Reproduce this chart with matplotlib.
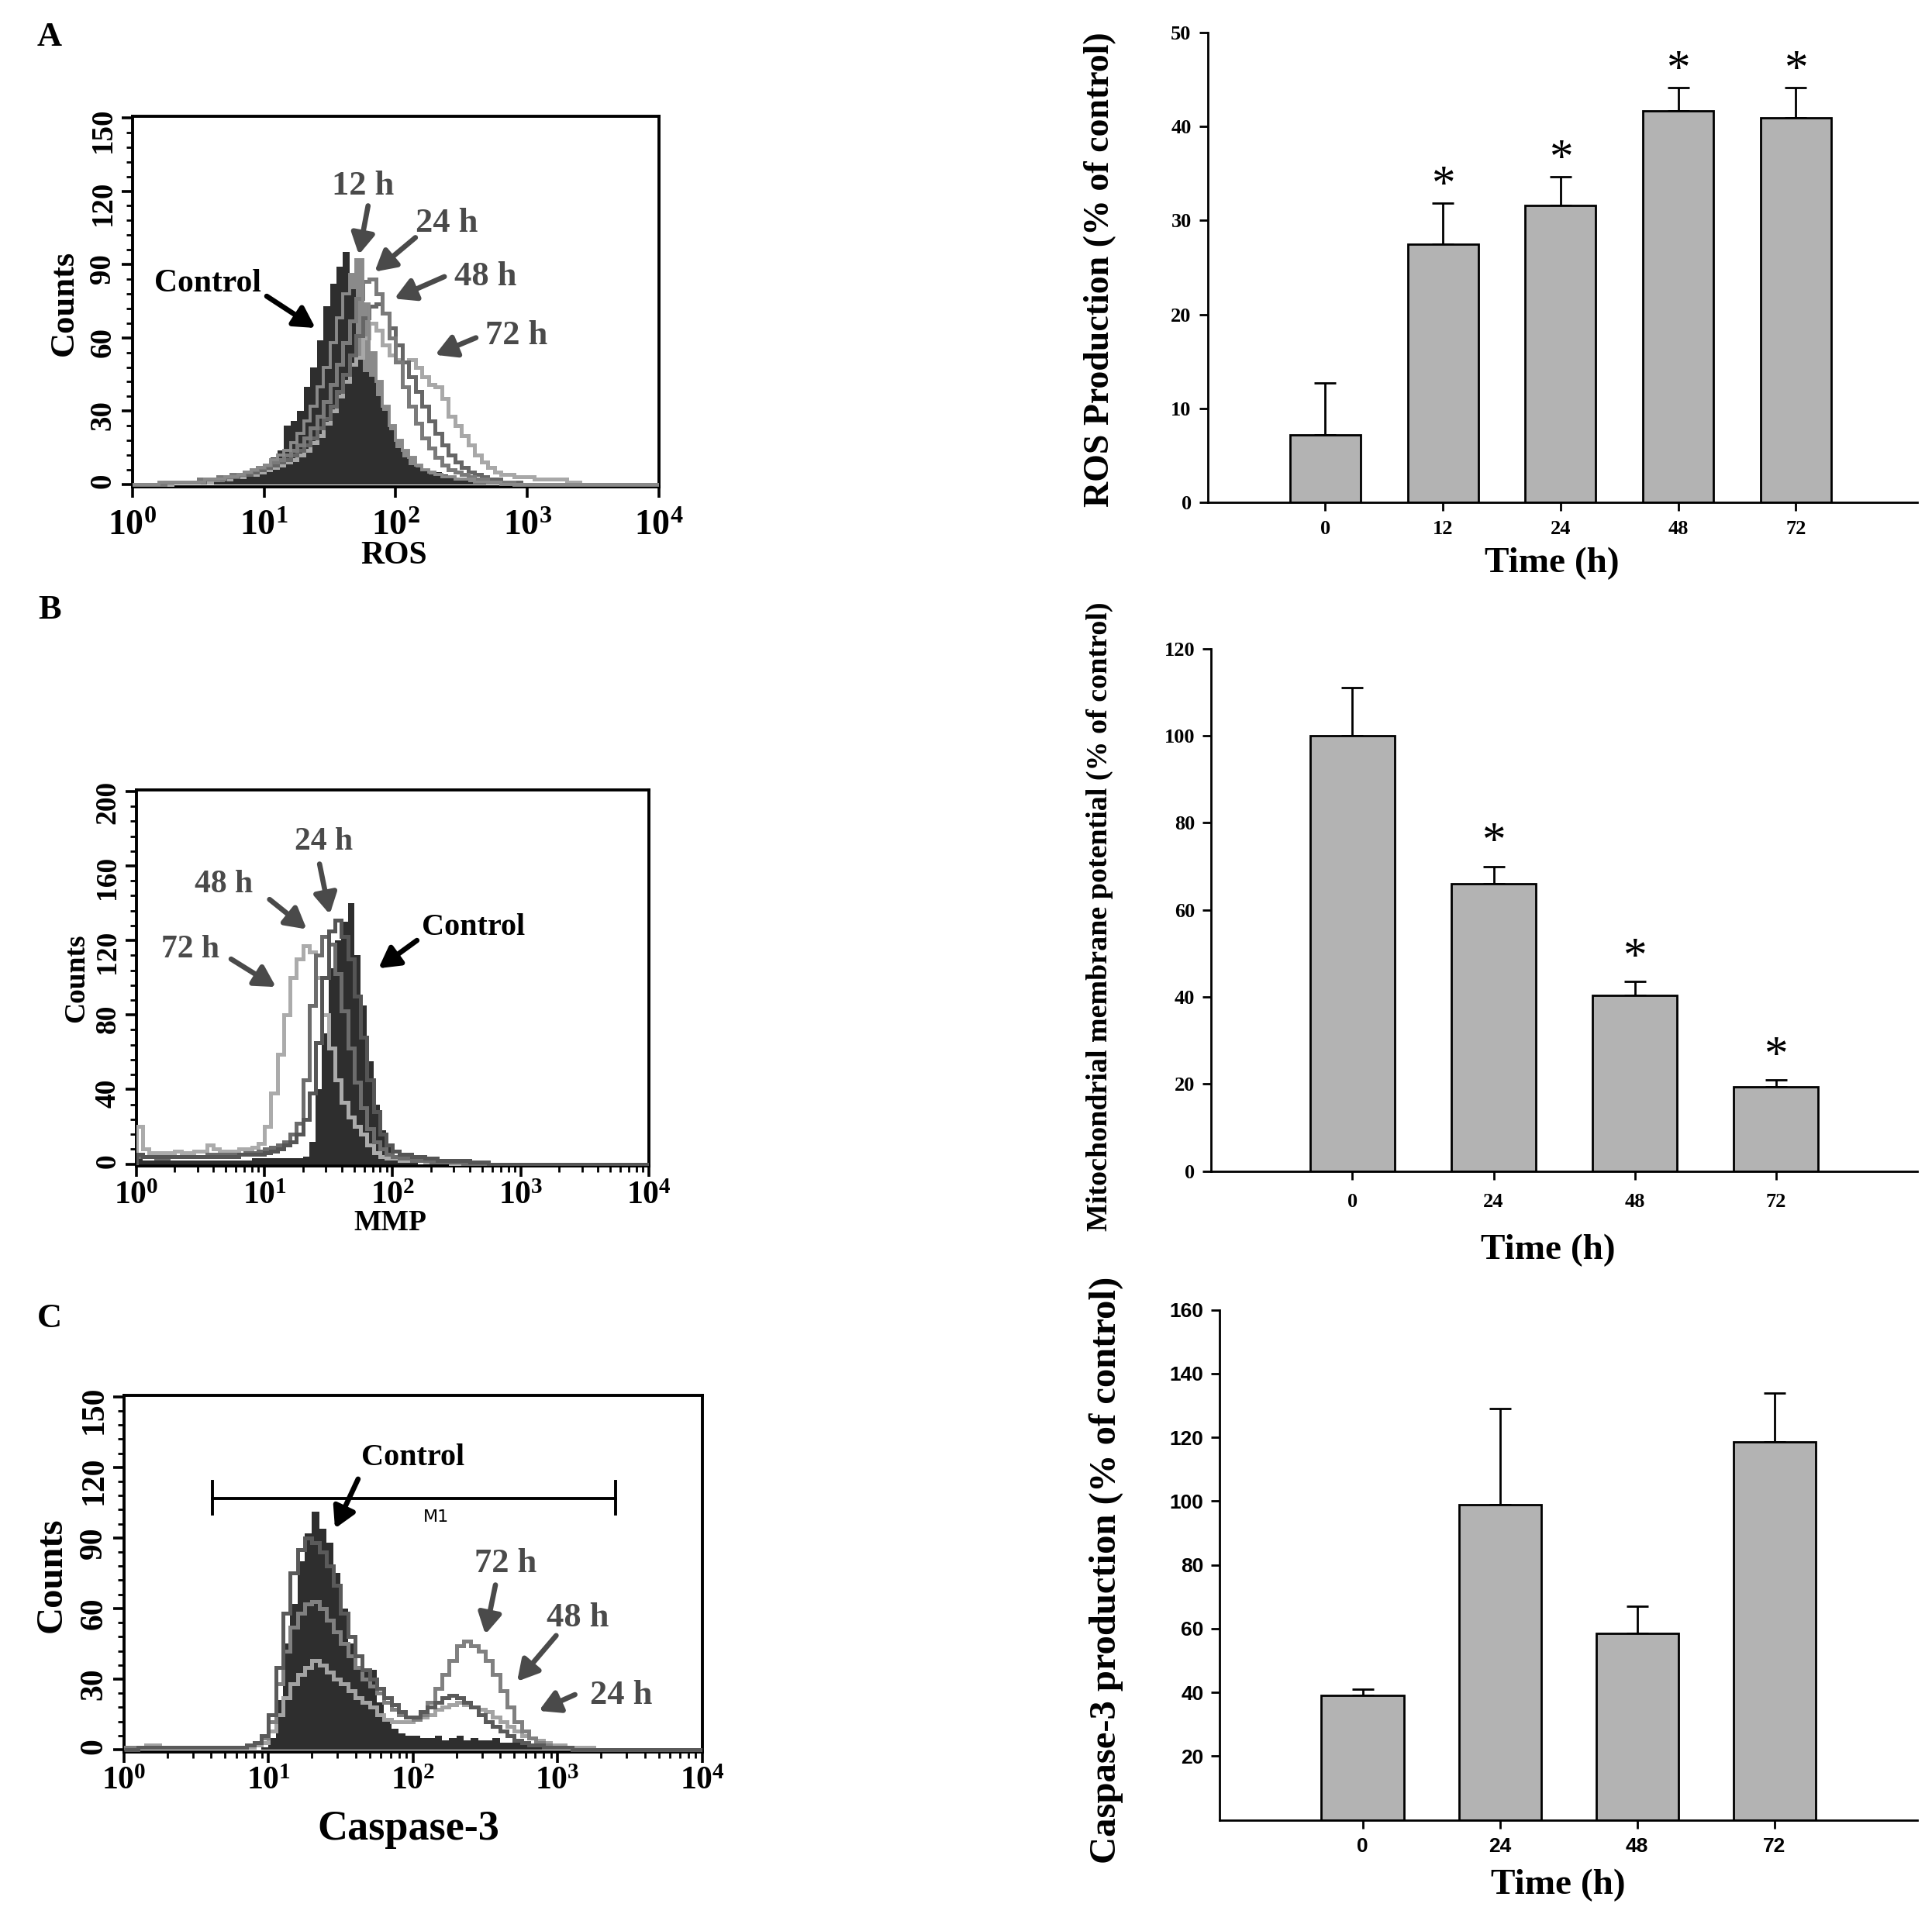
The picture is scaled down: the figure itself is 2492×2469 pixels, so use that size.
import numpy as np
import matplotlib
matplotlib.use('Agg')
import matplotlib.pyplot as plt
from matplotlib.ticker import FixedLocator, LogLocator, NullFormatter, FuncFormatter, AutoMinorLocator

plt.rcParams['font.family'] = 'Liberation Serif'
plt.rcParams['font.weight'] = 'bold'
plt.rcParams['mathtext.fontset'] = 'custom'
plt.rcParams['mathtext.rm'] = 'Liberation Serif:bold'
plt.rcParams['mathtext.it'] = 'Liberation Serif:bold'
plt.rcParams['mathtext.bf'] = 'Liberation Serif:bold'

# ---- histogram channels: 80 bins of 1/20 decade from 10^0 to 10^4 ----
edges = 10 ** np.linspace(0, 4, 81)

# ROS (panel A), counts per channel, one row per half decade
ros_control = [0, 0, 0, 0, 1, 1, 0, 1, 1, 0,
               1, 1, 1, 1, 2, 2, 3, 3, 4, 5,
               7, 11, 14, 24, 26, 30, 40, 48, 59, 73,
               82, 89, 95, 80, 52, 46, 44, 36, 30, 22,
               15, 11, 8, 7, 6, 4, 5, 4, 3, 2,
               2, 1, 1, 1, 1, 1, 1, 0, 0, 0,
               0, 0, 0, 0, 0, 0, 0, 0, 0, 0,
               0, 0, 0, 0, 0, 0, 0, 0, 0, 0]
ros_12h = [0, 0, 0, 0, 1, 1, 1, 1, 1, 1,
           1, 2, 2, 2, 3, 3, 4, 5, 6, 7,
           8, 10, 12, 14, 17, 21, 26, 32, 40, 48,
           58, 68, 78, 86, 92, 74, 54, 42, 32, 24,
           18, 14, 11, 8, 6, 5, 4, 3, 3, 2,
           2, 2, 1, 1, 1, 1, 0, 0, 0, 0,
           0, 0, 0, 0, 0, 0, 0, 0, 0, 0,
           0, 0, 0, 0, 0, 0, 0, 0, 0, 0]
ros_24h = [0, 0, 0, 0, 0, 1, 1, 1, 1, 1,
           2, 2, 2, 3, 3, 4, 4, 5, 6, 7,
           8, 9, 10, 12, 14, 16, 19, 23, 28, 34,
           41, 49, 58, 67, 76, 83, 84, 78, 70, 60,
           50, 40, 32, 25, 19, 15, 11, 8, 6, 5,
           4, 3, 2, 2, 1, 1, 1, 1, 0, 0,
           0, 0, 0, 0, 0, 0, 0, 0, 0, 0,
           0, 0, 0, 0, 0, 0, 0, 0, 0, 0]
ros_48h = [0, 0, 0, 0, 0, 1, 1, 1, 1, 1,
           1, 2, 2, 2, 3, 3, 4, 4, 5, 6,
           7, 8, 9, 10, 12, 14, 16, 19, 23, 27,
           32, 38, 45, 53, 61, 68, 73, 74, 70, 64,
           57, 50, 44, 38, 32, 26, 21, 16, 12, 9,
           7, 5, 4, 3, 2, 2, 1, 1, 1, 0,
           0, 0, 0, 0, 0, 0, 0, 0, 0, 0,
           0, 0, 0, 0, 0, 0, 0, 0, 0, 0]
ros_72h = [0, 0, 0, 0, 0, 0, 1, 1, 1, 1,
           1, 1, 2, 2, 2, 3, 3, 4, 4, 5,
           6, 7, 8, 9, 10, 12, 14, 17, 20, 25,
           30, 36, 42, 49, 52, 60, 66, 63, 57, 53,
           51, 50, 51, 48, 44, 41, 40, 35, 28, 24,
           20, 16, 12, 9, 7, 5, 4, 4, 3, 3,
           3, 2, 2, 2, 2, 2, 1, 1, 0, 0,
           0, 0, 0, 0, 0, 0, 0, 0, 0, 0]

# MMP (panel B)
mmp_control = [3, 2, 2, 2, 2, 2, 2, 2, 2, 2,
               2, 2, 2, 2, 2, 2, 2, 2, 3, 3,
               3, 3, 3, 3, 3, 3, 4, 12, 40, 70,
               105, 120, 130, 140, 112, 85, 55, 32, 18, 9,
               4, 2, 1, 1, 0, 0, 0, 0, 0, 0,
               0, 0, 0, 0, 0, 0, 0, 0, 0, 0,
               0, 0, 0, 0, 0, 0, 0, 0, 0, 0,
               0, 0, 0, 0, 0, 0, 0, 0, 0, 0]
mmp_24h = [5, 4, 4, 4, 4, 4, 4, 4, 4, 4,
           4, 4, 4, 4, 4, 4, 5, 5, 5, 5,
           6, 7, 8, 10, 12, 16, 24, 38, 65, 100,
           125, 131, 122, 110, 90, 68, 45, 28, 16, 10,
           7, 5, 5, 4, 4, 3, 3, 2, 2, 2,
           2, 2, 1, 1, 1, 0, 0, 0, 0, 0,
           0, 0, 0, 0, 0, 0, 0, 0, 0, 0,
           0, 0, 0, 0, 0, 0, 0, 0, 0, 0]
mmp_48h = [4, 4, 4, 3, 3, 4, 4, 4, 4, 4,
           4, 5, 5, 5, 5, 5, 5, 6, 6, 7,
           8, 9, 10, 12, 16, 22, 45, 85, 112, 122,
           118, 102, 82, 62, 44, 30, 19, 12, 8, 5,
           4, 3, 3, 2, 2, 2, 1, 1, 1, 1,
           1, 0, 0, 0, 0, 0, 0, 0, 0, 0,
           0, 0, 0, 0, 0, 0, 0, 0, 0, 0,
           0, 0, 0, 0, 0, 0, 0, 0, 0, 0]
mmp_72h = [20, 8, 6, 6, 6, 6, 7, 6, 6, 7,
           7, 10, 8, 7, 7, 7, 8, 8, 9, 11,
           20, 38, 59, 80, 100, 110, 117, 114, 100, 80,
           62, 45, 33, 25, 20, 16, 10, 6, 4, 3,
           3, 2, 2, 2, 2, 1, 1, 1, 1, 0,
           0, 0, 0, 0, 0, 0, 0, 0, 0, 0,
           0, 0, 0, 0, 0, 0, 0, 0, 0, 0,
           0, 0, 0, 0, 0, 0, 0, 0, 0, 0]

# Caspase-3 (panel C)
casp_control = [0, 0, 0, 0, 0, 0, 0, 0, 0, 0,
                0, 0, 0, 0, 0, 0, 0, 0, 0, 1,
                5, 21, 45, 62, 80, 92, 101, 94, 88, 75,
                60, 45, 35, 33, 34, 20, 13, 9, 7, 6,
                6, 5, 5, 6, 4, 5, 6, 4, 5, 4,
                4, 5, 3, 3, 4, 2, 1, 1, 0, 0,
                0, 0, 0, 0, 0, 0, 0, 0, 0, 0,
                0, 0, 0, 0, 0, 0, 0, 0, 0, 0]
casp_24h = [1, 1, 1, 2, 2, 1, 1, 1, 1, 1,
            1, 1, 1, 1, 1, 1, 1, 1, 2, 3,
            8, 15, 22, 28, 32, 35, 38, 36, 33, 30,
            28, 25, 22, 20, 18, 15, 13, 12, 12, 12,
            13, 14, 15, 17, 18, 19, 20, 19, 18, 17,
            16, 14, 12, 10, 8, 6, 5, 4, 3, 2,
            2, 1, 1, 1, 1, 0, 0, 0, 0, 0,
            0, 0, 0, 0, 0, 0, 0, 0, 0, 0]
casp_48h = [0, 0, 1, 1, 1, 1, 1, 1, 1, 1,
            1, 1, 1, 1, 1, 1, 1, 2, 3, 6,
            15, 35, 58, 75, 85, 90, 88, 84, 78, 70,
            58, 48, 40, 34, 30, 26, 22, 19, 16, 14,
            14, 16, 18, 20, 22, 23, 22, 20, 18, 15,
            12, 10, 8, 6, 4, 3, 2, 2, 1, 1,
            1, 1, 0, 0, 0, 0, 0, 0, 0, 0,
            0, 0, 0, 0, 0, 0, 0, 0, 0, 0]
casp_72h = [1, 1, 1, 1, 1, 1, 1, 1, 1, 1,
            1, 1, 1, 1, 1, 1, 1, 2, 3, 5,
            12, 28, 42, 52, 58, 62, 63, 60, 55, 50,
            45, 40, 35, 30, 27, 24, 20, 17, 15, 14,
            13, 15, 20, 26, 32, 38, 44, 46, 44, 42,
            38, 32, 25, 18, 12, 8, 5, 3, 2, 1,
            1, 1, 0, 0, 0, 0, 0, 0, 0, 0,
            0, 0, 0, 0, 0, 0, 0, 0, 0, 0]

# ---- bar charts ----
ros_time = ['0', '12', '24', '48', '72']
ros_mean = [7.2, 27.5, 31.6, 41.6, 40.9]
ros_err = [5.5, 4.3, 3.0, 2.5, 3.2]
ros_sig = [False, True, True, True, True]

mmp_time = ['0', '24', '48', '72']
mmp_mean = [100.0, 66.0, 40.3, 19.3]
mmp_err = [11.0, 4.0, 3.2, 1.6]
mmp_sig = [False, True, True, True]

casp_time = ['0', '24', '48', '72']
casp_mean = [39.0, 99.0, 58.5, 118.5]
casp_err = [2.0, 30.0, 8.5, 15.5]

W, H = 1560.0, 1546.0


def box(x0, y0, x1, y1):
    # display-pixel box of the reference -> figure fraction
    return [x0 / W, 1 - y1 / H, (x1 - x0) / W, (y1 - y0) / H]


def ftext(x, y, s, **kw):
    fig.text(x / W, 1 - y / H, s, ha='center', va='center', **kw)


def setup_hist(ax, ymax, ystep, fs_x, fs_y, xpad=2):
    ax.set_xscale('log')
    ax.set_xlim(1, 1e4)
    ax.set_ylim(-ymax * 0.006, ymax * 1.004)
    ax.set_yticks(np.arange(0, ymax + 1, ystep))
    ax.yaxis.set_minor_locator(AutoMinorLocator(5))
    ax.xaxis.set_major_locator(FixedLocator([1, 10, 100, 1000, 10000]))
    ax.xaxis.set_minor_locator(LogLocator(base=10, subs=np.arange(2, 10)))
    ax.xaxis.set_minor_formatter(NullFormatter())
    ax.xaxis.set_major_formatter(FuncFormatter(lambda v, p: r'$10^{%d}$' % round(np.log10(v))))
    ax.tick_params(which='major', direction='out', length=5, width=1.3)
    ax.tick_params(which='minor', direction='out', length=3, width=1.0)
    ax.tick_params(axis='x', labelsize=fs_x, pad=xpad)
    ax.tick_params(axis='y', labelsize=fs_y, labelrotation=90, pad=2)
    for s in ax.spines.values():
        s.set_linewidth(1.4)


def arrow(ax, lx, ly, tx, ty, color):
    ax.annotate('', xy=(10 ** tx, ty), xytext=(10 ** lx, ly),
                arrowprops=dict(arrowstyle='-|>,head_length=0.5,head_width=0.28',
                                lw=2.4, color=color, mutation_scale=16,
                                shrinkA=0, shrinkB=0))


def label(ax, lx, ly, s, color, fs):
    ax.text(10 ** lx, ly, s, ha='center', va='center', fontsize=fs, color=color, fontweight='bold')


def setup_bar(ax, labels, ymax, ystep, fs_tick, first_label=0, xpad=8):
    ax.spines['top'].set_visible(False)
    ax.spines['right'].set_visible(False)
    for s in ['left', 'bottom']:
        ax.spines[s].set_linewidth(1.0)
    ax.set_xticks(np.arange(len(labels)))
    ax.set_xticklabels(labels)
    ax.set_ylim(0, ymax)
    ax.set_yticks(np.arange(first_label, ymax + 1, ystep))
    ax.tick_params(direction='out', length=4, width=1.0, labelsize=fs_tick)
    ax.tick_params(axis='x', pad=xpad)


def bars(ax, mean, err, sig=None, star_off=14):
    x = np.arange(len(mean))
    ax.bar(x, mean, width=0.6, color='#b3b3b3', edgecolor='black', linewidth=1.0, zorder=2)
    ax.errorbar(x, mean, yerr=[np.zeros(len(err)), err], fmt='none', ecolor='black',
                elinewidth=1.0, capsize=5, capthick=1.0, zorder=1)
    if sig is not None:
        for i, s in enumerate(sig):
            if s:
                ax.annotate('*', xy=(i, mean[i] + err[i]), xytext=(0, star_off),
                            textcoords='offset points', ha='center', va='center',
                            fontsize=22, fontweight='normal')


fig = plt.figure(figsize=(12.46, 12.345), dpi=200)

c_ctrl = '#2e2e2e'
c_txt = '#4a4a4a'

# ================= A : ROS histogram =================
ax = fig.add_axes(box(107, 94, 532, 393))
ax.stairs(ros_12h, edges, fill=True, color='#8a8a8a', zorder=1)
ax.stairs(ros_control, edges, fill=True, color=c_ctrl, zorder=2)
ax.stairs(ros_72h, edges, color='#a8a8a8', lw=1.8, zorder=3)
ax.stairs(ros_48h, edges, color='#666666', lw=1.8, zorder=4)
ax.stairs(ros_24h, edges, color='#7a7a7a', lw=1.8, zorder=5)
ax.stairs(ros_12h, edges, color='#8a8a8a', lw=1.4, zorder=6)
setup_hist(ax, 150, 30, 16.5, 14, xpad=6)
label(ax, 1.75, 122, '12 h', c_txt, 16)
arrow(ax, 1.79, 114, 1.72, 94, c_txt)
label(ax, 2.39, 107, '24 h', c_txt, 16)
arrow(ax, 2.15, 101, 1.84, 87, c_txt)
label(ax, 2.68, 85, '48 h', c_txt, 16)
arrow(ax, 2.37, 85, 1.99, 76, c_txt)
label(ax, 2.92, 61, '72 h', c_txt, 16)
arrow(ax, 2.61, 60, 2.30, 53, c_txt)
label(ax, 0.57, 82, 'Control', 'black', 15)
arrow(ax, 1.02, 77, 1.39, 64, 'black')
ftext(52, 245, 'Counts', fontsize=16, rotation=90)
ftext(318, 449, 'ROS', fontsize=15)
ftext(40, 30, 'A', fontsize=16)

# ================= A : ROS bars =================
ax = fig.add_axes(box(975, 26, 1548, 406))
bars(ax, ros_mean, ros_err, ros_sig, star_off=8)
setup_bar(ax, ros_time, 50, 10, 9.5, xpad=4)
ax.set_xlim(-1, 5.03)
ftext(888, 218, 'ROS Production (% of control)', fontsize=16.5, rotation=90)
ftext(1253, 455, 'Time (h)', fontsize=17)

# ================= B : MMP histogram =================
ax = fig.add_axes(box(110, 638, 524, 942))
ax.stairs(mmp_control, edges, fill=True, color=c_ctrl, zorder=1)
ax.stairs(mmp_72h, edges, color='#ababab', lw=1.8, zorder=3)
ax.stairs(mmp_48h, edges, color='#6c6c6c', lw=1.8, zorder=4)
ax.stairs(mmp_24h, edges, color='#555555', lw=1.8, zorder=5)
setup_hist(ax, 200, 40, 15, 13.5)
label(ax, 1.46, 173, '24 h', c_txt, 15)
arrow(ax, 1.43, 161, 1.51, 134, c_txt)
label(ax, 0.68, 150, '48 h', c_txt, 15)
arrow(ax, 1.04, 142, 1.33, 126, c_txt)
label(ax, 0.42, 115, '72 h', c_txt, 15)
arrow(ax, 0.74, 110, 1.09, 95, c_txt)
label(ax, 2.63, 127, 'Control', 'black', 14.5)
arrow(ax, 2.19, 120, 1.89, 105, 'black')
ftext(62, 790, 'Counts', fontsize=13.5, rotation=90)
ftext(315, 988, 'MMP', fontsize=13.5)
ftext(40, 493, 'B', fontsize=16)

# ================= B : MMP bars =================
ax = fig.add_axes(box(978, 524, 1548, 946))
bars(ax, mmp_mean, mmp_err, mmp_sig, star_off=11)
setup_bar(ax, mmp_time, 120, 20, 9.5, xpad=6)
ax.set_xlim(-1, 4.0)
ftext(888, 740, 'Mitochondrial membrane potential (% of control)', fontsize=13.7, rotation=90)
ftext(1250, 1010, 'Time (h)', fontsize=17)

# ================= C : Caspase-3 histogram =================
ax = fig.add_axes(box(100, 1127, 567, 1415))
ax.stairs(casp_control, edges, fill=True, color=c_ctrl, zorder=1)
ax.stairs(casp_24h, edges, color='#a3a3a3', lw=1.8, zorder=3)
ax.stairs(casp_72h, edges, color='#808080', lw=1.8, zorder=4)
ax.stairs(casp_48h, edges, color='#5a5a5a', lw=1.8, zorder=5)
setup_hist(ax, 150, 30, 15, 15)
ax.plot([10 ** 0.61, 10 ** 3.40], [106.6, 106.6], color='black', lw=1.4, zorder=6)
ax.plot([10 ** 0.61, 10 ** 0.61], [100, 114], color='black', lw=1.4, zorder=6)
ax.plot([10 ** 3.40, 10 ** 3.40], [100, 114], color='black', lw=1.4, zorder=6)
ax.text(10 ** 2.16, 99, 'M1', ha='center', va='center', fontsize=8,
        family='DejaVu Sans', fontweight='normal')
label(ax, 2.0, 124, 'Control', 'black', 14.5)
arrow(ax, 1.62, 115, 1.46, 94, 'black')
label(ax, 2.64, 79, '72 h', c_txt, 16)
arrow(ax, 2.57, 70, 2.50, 49, c_txt)
label(ax, 3.14, 56, '48 h', c_txt, 16)
arrow(ax, 2.99, 48.5, 2.72, 29, c_txt)
label(ax, 3.44, 23, '24 h', c_txt, 16)
arrow(ax, 3.12, 23.4, 2.87, 16.5, c_txt)
ftext(42, 1272, 'Counts', fontsize=17.5, rotation=90)
ftext(330, 1478, 'Caspase-3', fontsize=19.5)
ftext(40, 1065, 'C', fontsize=16)

# ================= C : Caspase-3 bars =================
ax = fig.add_axes(box(985, 1058, 1548, 1470))
bars(ax, casp_mean, casp_err)
setup_bar(ax, casp_time, 160, 20, 9.5, first_label=20, xpad=4)
ax.set_xlim(-1.04, 4.04)
for lab in ax.get_xticklabels() + ax.get_yticklabels():
    lab.set_family('Liberation Sans')
ftext(893, 1268, 'Caspase-3 production (% of control)', fontsize=17.5, rotation=90)
ftext(1258, 1523, 'Time (h)', fontsize=17)

fig.savefig('out.png', dpi=200)
